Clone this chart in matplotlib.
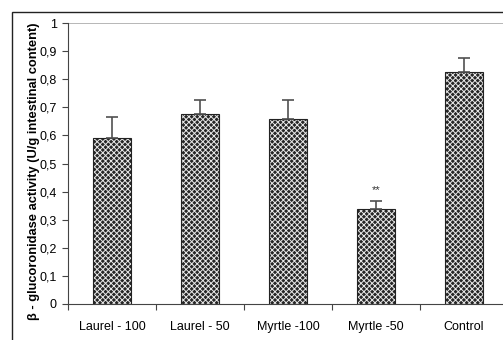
import numpy as np
import matplotlib.pyplot as plt
from matplotlib.patches import Rectangle

plt.rcParams['font.family'] = ['Liberation Sans', 'DejaVu Sans']
plt.rcParams['hatch.linewidth'] = 0.7

# Atividade da beta-glucoronidase por grupo
grupos = ["Laurel - 100", "Laurel - 50", "Myrtle -100", "Myrtle -50", "Control"]
atividade = [0.59, 0.676, 0.658, 0.337, 0.825]
erro = [0.075, 0.05, 0.067, 0.031, 0.05]
marcas = ["", "", "", "**", ""]
yticks = np.arange(0, 1.01, 0.1)
ylabels = ["0" if v == 0 else ("1" if v == 1 else f"{v:.1f}".replace(".", ",")) for v in yticks]

fig = plt.figure(figsize=(5.03, 3.40), dpi=100)
ax = fig.add_axes([68 / 503, 1 - 304 / 340, 440 / 503, 281 / 340])

x = np.arange(len(grupos))
largura = 0.43

# preenchimento quadriculado: fundo escuro com hachura branca
ax.bar(x, atividade, largura, color='#262626', edgecolor='#e8e8e8', hatch='xxxxxx',
       linewidth=0, zorder=2)
ax.bar(x, atividade, largura, fill=False, edgecolor='#222222', linewidth=0.8, zorder=3)

# barras de erro so para cima
ax.errorbar(x, atividade, yerr=[np.zeros(len(erro)), erro], fmt='none',
            ecolor='#505050', elinewidth=1.2, capsize=4, capthick=1.2, zorder=4)

for xi, v, e, m in zip(x, atividade, erro, marcas):
    if m:
        ax.text(xi, v + e + 0.02, m, ha='center', va='bottom', fontsize=8, color='#333333')

ax.axhline(1, color='#aaaaaa', linewidth=1.2, zorder=1)

ax.set_xlim(-0.5, len(grupos) - 0.5)
ax.set_ylim(0, 1)
ax.set_yticks(yticks)
ax.set_yticklabels(ylabels, fontsize=9)
ax.set_xticks(np.arange(-0.5, len(grupos), 1.0))
ax.set_xticklabels([])
ax.set_xticks(x, minor=True)
ax.set_xticklabels(grupos, minor=True, fontsize=9)
ax.tick_params(axis='x', which='minor', length=0, pad=12)
ax.tick_params(axis='x', which='major', length=4, color='#444444')
ax.tick_params(axis='y', length=4, color='#444444', pad=4)

ax.spines['top'].set_visible(False)
ax.spines['right'].set_visible(False)
ax.spines['left'].set_color('#444444')
ax.spines['bottom'].set_color('#444444')

ax.set_ylabel("β - glucoronidase activity (U/g intestinal content)", fontsize=9.3,
              fontweight='bold')
ax.yaxis.set_label_coords(-0.064, 0.473)

# moldura externa do grafico
fig.patches.append(Rectangle((12 / 503, -0.1), 1.2, 1 - 12 / 340 + 0.1,
                             transform=fig.transFigure, fill=False,
                             edgecolor='#222222', linewidth=1.0))

plt.savefig('out.png', dpi=100)
